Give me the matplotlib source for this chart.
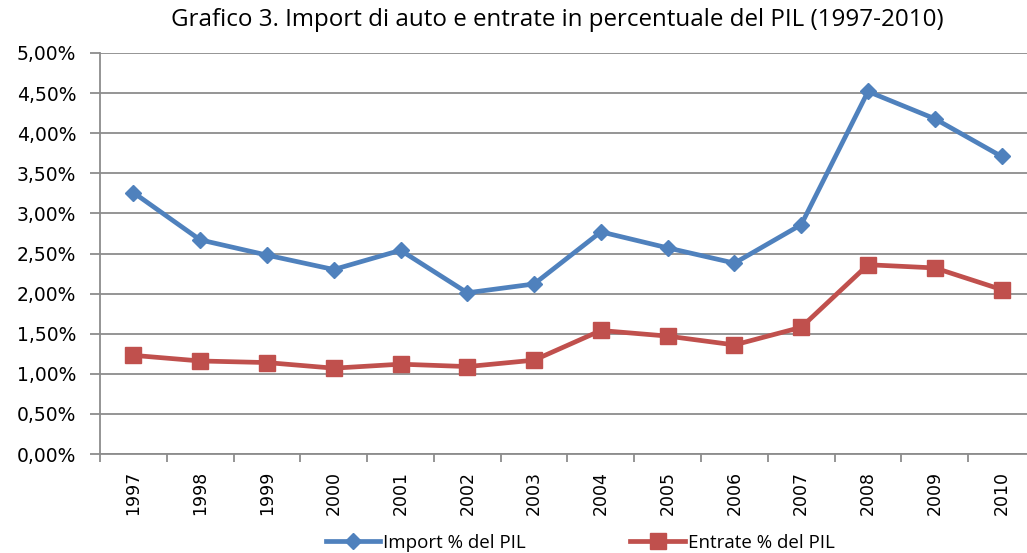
#!/usr/bin/env python3

import matplotlib.pyplot as plt
from matplotlib.ticker import FuncFormatter

years = ['1997', '1998', '1999', '2000', '2001', '2002', '2003',
         '2004', '2005', '2006', '2007', '2008', '2009', '2010']
import_pil = [3.26, 2.67, 2.48, 2.30, 2.54, 2.01, 2.12,
              2.77, 2.57, 2.38, 2.86, 4.52, 4.18, 3.71]
entrate_pil = [1.23, 1.16, 1.14, 1.07, 1.12, 1.09, 1.17,
               1.54, 1.47, 1.36, 1.58, 2.36, 2.32, 2.05]

BLUE = '#4f81bd'
RED = '#c0504d'
GRID = '#8c8c8c'


def pct(v, pos):
    return ('%.2f%%' % v).replace('.', ',')


def main():
    fig = plt.figure(figsize=(10.27, 5.53), dpi=100)
    # axes extends a bit past the right edge like the cropped original
    ax = fig.add_axes([100 / 1027, 1 - 454 / 553, 935 / 1027, 401 / 553])

    x = list(range(len(years)))
    ax.plot(x, import_pil, color=BLUE, lw=3.4, marker='D', ms=8.5,
            label='Import % del PIL', clip_on=False, zorder=3)
    ax.plot(x, entrate_pil, color=RED, lw=3.4, marker='s', ms=11,
            label='Entrate % del PIL', clip_on=False, zorder=3)

    ax.set_xlim(-0.5, len(years) - 0.5)
    ax.set_ylim(0, 5)
    ax.set_yticks([i * 0.5 for i in range(11)])
    ax.yaxis.set_major_formatter(FuncFormatter(pct))
    ax.grid(axis='y', color=GRID, lw=1.3)
    ax.set_axisbelow(True)

    ax.set_xticks(x)
    ax.set_xticklabels(years, rotation=90, family='DejaVu Sans')
    ax.set_xticks([i - 0.5 for i in range(len(years) + 1)], minor=True)
    ax.tick_params(axis='x', which='major', length=0, pad=12, labelsize=12.5)
    ax.tick_params(axis='x', which='minor', length=6, color=GRID, width=1.3)
    ax.tick_params(axis='y', length=7, color=GRID, width=1.3, labelsize=13.5,
                   pad=10)
    for lab in ax.get_yticklabels():
        lab.set_family('DejaVu Sans')

    for s in ['top', 'right']:
        ax.spines[s].set_visible(False)
    ax.spines['left'].set_color(GRID)
    ax.spines['left'].set_linewidth(1.3)
    ax.spines['bottom'].set_color(GRID)
    ax.spines['bottom'].set_linewidth(1.3)

    fig.text(557 / 1027, 1 - 20 / 553,
             'Grafico 3. Import di auto e entrate in percentuale del PIL (1997-2010)',
             ha='center', va='center', fontsize=17.4, family='Open Sans')

    fig.legend(loc='center', bbox_to_anchor=(580 / 1027, 1 - 543 / 553),
               ncol=2, frameon=False, handlelength=2.9,
               columnspacing=5.6, handletextpad=0.15,
               prop={'family': 'Open Sans', 'size': 13.5})

    fig.savefig('out.png', dpi=100)


if __name__ == '__main__':
    main()
